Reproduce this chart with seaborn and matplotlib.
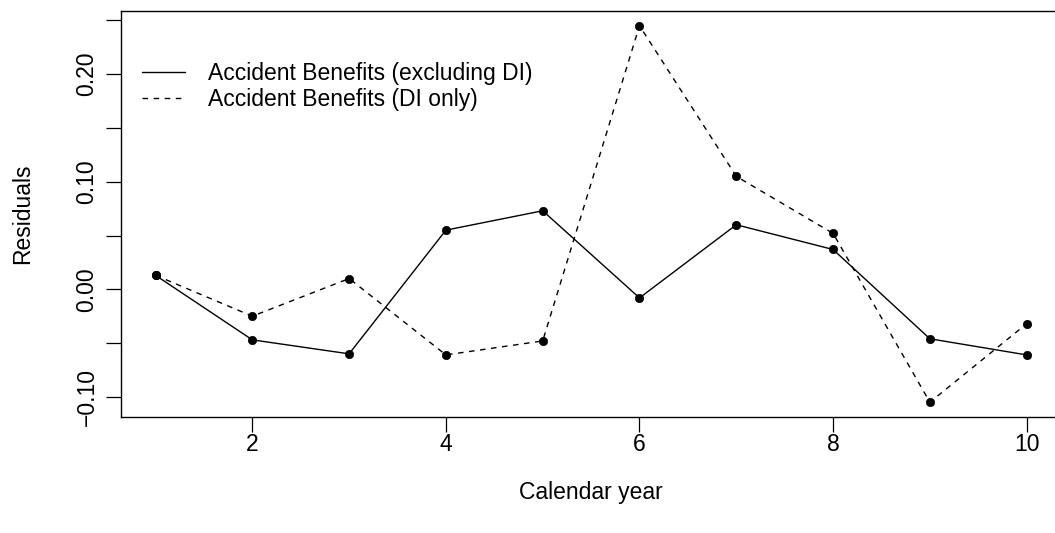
import numpy as np
import pandas as pd
import matplotlib
matplotlib.use("Agg")
import matplotlib.pyplot as plt
from matplotlib.lines import Line2D
import seaborn as sns

# Residuals by calendar year for the two accident-benefit segments
years = [1, 2, 3, 4, 5, 6, 7, 8, 9, 10]
resid_excl_di = [0.013, -0.047, -0.060, 0.055, 0.073, -0.008, 0.060, 0.037, -0.046, -0.061]
resid_di_only = [0.013, -0.025, 0.010, -0.061, -0.048, 0.245, 0.105, 0.052, -0.105, -0.032]
series_names = ["Accident Benefits (excluding DI)", "Accident Benefits (DI only)"]
y_ticks = [-0.10, -0.05, 0.00, 0.05, 0.10, 0.15, 0.20, 0.25]
y_labels = ["\u22120.10", "", "0.00", "", "0.10", "", "0.20", ""]
x_ticks = [2, 4, 6, 8, 10]

FS = 16.5

sns.set_style("white")
plt.rcParams["font.family"] = ["Liberation Sans", "DejaVu Sans"]
plt.rcParams["font.size"] = FS
for key in ("text.color", "axes.labelcolor", "xtick.color", "ytick.color"):
    plt.rcParams[key] = "black"

df = pd.concat([
    pd.DataFrame({"year": years, "resid": resid_excl_di, "series": series_names[0]}),
    pd.DataFrame({"year": years, "resid": resid_di_only, "series": series_names[1]}),
])

W, H = 1055, 533
fig = plt.figure(figsize=(W / 100, H / 100), dpi=100)
left, right, top, bottom = 120.7, 1061.5, 10.7, 417.3
ax_w, ax_h = right - left, bottom - top
ax = fig.add_axes([left / W, 1 - bottom / H, ax_w / W, ax_h / H])

styles = {series_names[0]: "-", series_names[1]: (0, (4, 4))}
for name in series_names:
    sub = df[df["series"] == name]
    sns.lineplot(data=sub, x="year", y="resid", ax=ax, color="black",
                 linestyle=styles[name], linewidth=1.0, marker="o",
                 markersize=6, markeredgecolor="black", markerfacecolor="black",
                 markeredgewidth=0.5, legend=False)

# 4% padding around the data range on both axes
xmin, xmax = min(years), max(years)
allv = resid_excl_di + resid_di_only
ymin, ymax = min(allv), max(allv)
xp = (xmax - xmin) * 0.04
yp = (ymax - ymin) * 0.04
ax.set_xlim(xmin - xp, xmax + xp)
ax.set_ylim(ymin - yp, ymax + yp)

ax.set_xticks(x_ticks)
ax.set_xticklabels([str(t) for t in x_ticks])
ax.set_yticks(y_ticks)
ax.set_yticklabels(y_labels, rotation=90, va="center")
ax.tick_params(axis="both", direction="out", length=10.5, width=0.9, color="black",
               labelsize=FS, labelcolor="black", bottom=True, left=True)
ax.tick_params(axis="x", pad=0.5)
ax.tick_params(axis="y", pad=5.5)
for s in ax.spines.values():
    s.set_color("black")
    s.set_linewidth(1.0)
    s.set_visible(True)

ax.set_xlabel("Calendar year", fontsize=FS, va="center", color="black")
ax.xaxis.set_label_coords(0.5, (bottom - 493) / ax_h)
ax.set_ylabel("Residuals", fontsize=FS, va="center", color="black")
ax.yaxis.set_label_coords((23 - left) / ax_w, 0.5)

handles = [Line2D([], [], color="black", linestyle=styles[n], linewidth=1.0) for n in series_names]
ax.legend(handles, series_names, loc="upper left", frameon=False, fontsize=FS,
          bbox_to_anchor=((142 - left) / ax_w, 1 - (62 - top) / ax_h),
          handlelength=1.88, handletextpad=1.0, labelspacing=0.12,
          borderaxespad=0.0, borderpad=0.0, labelcolor="black")

fig.savefig("out.png", dpi=100)
